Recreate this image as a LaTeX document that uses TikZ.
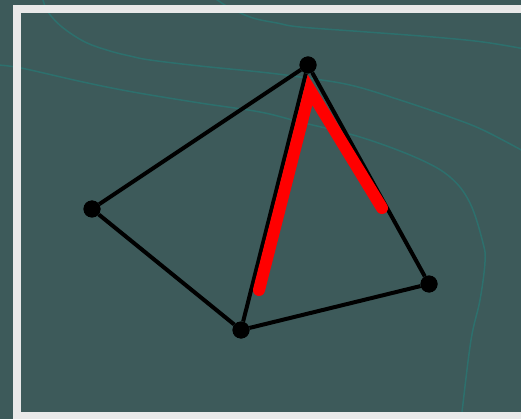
\documentclass[tikz,border=0pt]{standalone}
\begin{document}
\begin{tikzpicture}[x=1pt,y=-1pt,
  contour/.style={draw=contourcol,line width=1.5pt},
  edge/.style={draw=black,line width=4pt},
  dot/.style={circle,fill=black,minimum size=17pt,inner sep=0pt},
  highlight/.style={draw=red,line width=12pt,line cap=round,line join=miter}]
\definecolor{bgcol}{HTML}{3D5A5A}
\definecolor{contourcol}{HTML}{2D706D}
\definecolor{framecol}{HTML}{E9E9E9}
\useasboundingbox (0,0) rectangle (521,419);
\fill[bgcol] (0,0) rectangle (521,419);
% contours
\draw[contour] plot[smooth,tension=0.6] coordinates {(43,0) (48,12) (62,27) (85,42) (110,51) (130,56) (150,60) (200,66) (260,72) (300,77) (350,85) (400,100) (450,117) (483,130) (525,152)};
\draw[contour] plot[smooth,tension=0.6] coordinates {(-3,65) (21,68) (83,82) (133,92) (200,103) (260,112) (300,122) (360,137) (417,158) (450,177) (470,203) (483,243) (485,262) (480,300) (471,340) (462,412) (461,422)};
\draw[contour] plot[smooth,tension=0.6] coordinates {(213,-3) (230,8) (253,18) (277,23) (300,27) (367,32) (433,37) (483,42) (525,49)};
% frame
\draw[framecol,line width=8pt] (17,9) rectangle (540,416);
% nodes
\node[dot] (A) at (308,65) {};
\node[dot] (B) at (92,209) {};
\node[dot] (C) at (241,330) {};
\node[dot] (D) at (429,284) {};
% edges
\draw[edge] (A) -- (B);
\draw[edge] (B) -- (C);
\draw[edge] (C) -- (D);
\draw[edge] (D) -- (A);
\draw[edge] (A) -- (C);
% highlight
\coordinate (r1) at (259,290);
\coordinate (rt) at (310,90);
\coordinate (r2) at (382,208);
\draw[highlight] (r1) -- (rt) -- (r2);
% dots on top
\foreach \n in {A,B,C,D} \fill[black] (\n) circle (8.5pt);
\end{tikzpicture}
\end{document}
